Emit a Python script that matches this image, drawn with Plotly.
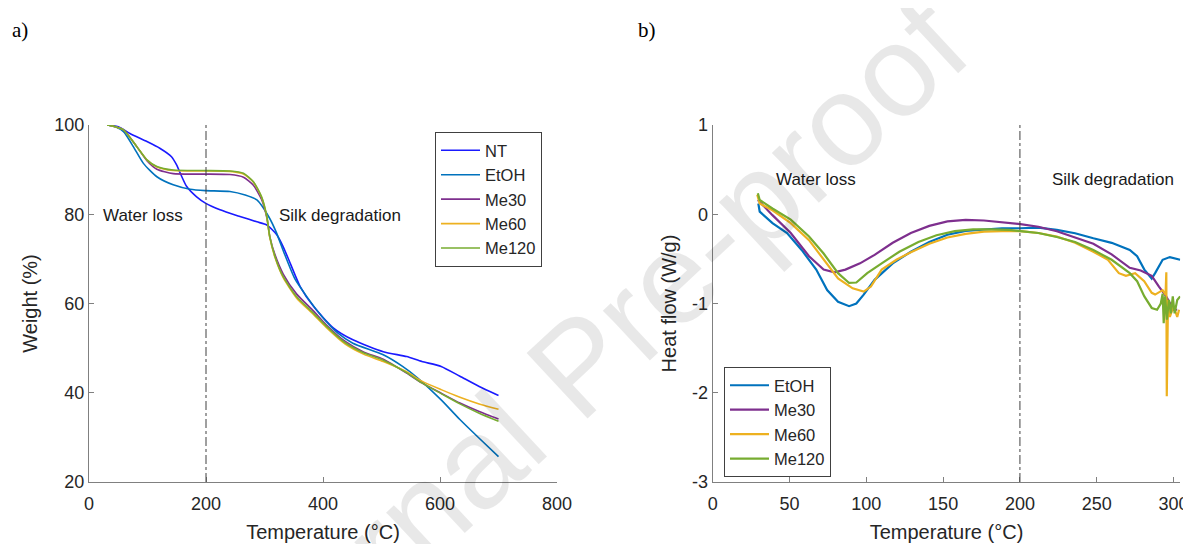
import plotly.graph_objects as go

# ---------------- a) TGA data ----------------
T_NT = [31, 50, 70, 99, 121, 141, 150, 156, 167, 184, 199, 224, 258, 287, 304, 321, 332, 344, 361, 384, 418, 452, 503, 543, 569, 602, 634, 667, 700]
W_NT = [100, 99.6, 98.1, 96.3, 94.8, 92.9, 91, 89.2, 86.2, 83.9, 82.5, 81, 79.5, 78.3, 77.6, 75.4, 72.7, 69, 63.8, 59.3, 54.5, 51.8, 49.2, 48.1, 47, 45.9, 43.7, 41.4, 39.4]

T_EtOH = [31, 45, 59, 76, 93, 116, 144, 173, 199, 241, 267, 287, 307, 320, 333, 352, 372, 398, 425, 451, 503, 536, 562, 602, 634, 667, 700]
W_EtOH = [100, 99.6, 98.5, 95.1, 91.4, 88.4, 86.6, 85.6, 85.3, 85.1, 84.3, 83.2, 79.5, 76, 71.5, 65.5, 61.6, 57.1, 53.4, 51.1, 48.5, 45.9, 43.3, 38.4, 34, 29.8, 25.7]

T_ME = [31, 45, 59, 82, 99, 116, 144, 195, 241, 264, 281, 295, 304, 309, 318, 332, 355, 384, 405, 438, 470, 503, 543, 569, 602, 634, 667, 700]
W_Me30 = [100, 99.6, 98.9, 95.1, 92.0, 90.1, 89.1, 89.0, 88.9, 88.3, 86.5, 83.3, 79.2, 75.0, 70.9, 66.6, 62.1, 58.3, 55.3, 51.5, 49.1, 47.5, 44.4, 42.2, 39.9, 37.7, 35.8, 34.1]
W_Me60 = [100, 99.6, 98.9, 95.1, 92.2, 90.6, 89.8, 89.7, 89.6, 89.0, 87.2, 83.8, 79.4, 74.8, 70.3, 65.8, 61.2, 57.5, 54.7, 50.9, 48.6, 47.0, 44.7, 42.6, 40.7, 39.0, 37.5, 36.3]
W_Me120 = [100, 99.6, 98.9, 95.1, 92.2, 90.7, 89.9, 89.8, 89.7, 89.2, 87.3, 83.9, 79.5, 75.0, 70.5, 66.0, 61.5, 57.8, 55.0, 51.2, 48.9, 47.3, 44.5, 42.2, 39.8, 37.5, 35.4, 33.6]

# ---------------- b) DSC data ----------------
D_T_EtOH = [29.7, 30.6, 38.9, 48.4, 57.9, 67.4, 74.5, 81.6, 88.8, 93.5, 98.3, 105.4, 117.2, 129, 141, 152.8, 164.7, 176.6, 188.4, 200.3, 212, 224, 235.9, 247.8, 259.7, 271.5, 276.3, 281, 285.8, 288, 292.9, 297.6, 304.3]
D_H_EtOH = [0.12, 0.03, -0.10, -0.21, -0.40, -0.62, -0.85, -0.98, -1.03, -1.0, -0.90, -0.735, -0.55, -0.42, -0.31, -0.23, -0.186, -0.168, -0.157, -0.157, -0.15, -0.175, -0.213, -0.269, -0.32, -0.40, -0.47, -0.62, -0.72, -0.66, -0.51, -0.48, -0.51]

D_T_Me30 = [29.4, 38.9, 50.8, 62.7, 72.2, 79.3, 86.4, 95.9, 105.4, 117.2, 129, 141, 152.8, 164.7, 176.6, 188.4, 200.3, 212, 224, 235.9, 247.8, 259.7, 271.5, 278.6, 285.8, 290.5, 295.2, 300, 302.4]
D_H_Me30 = [0.16, -0.01, -0.21, -0.47, -0.62, -0.65, -0.62, -0.55, -0.455, -0.32, -0.21, -0.13, -0.08, -0.063, -0.07, -0.09, -0.11, -0.14, -0.19, -0.26, -0.33, -0.45, -0.60, -0.63, -0.69, -0.81, -0.92, -1.07, -1.07]

D_T_Me60 = [29.0, 30.6, 38.9, 50.8, 62.7, 72.2, 81.6, 91.1, 98.3, 103, 110, 119.6, 129, 141, 152.8, 164.7, 176.6, 188.4, 200.3, 212, 224, 235.9, 247.8, 257.3, 264.4, 269, 275, 280.9, 285.8, 288, 290.5, 292.9, 294.8, 295.3, 295.6, 296.4, 297.6, 300, 302.4, 303.6]
D_H_Me60 = [0.22, 0.12, 0.045, -0.10, -0.29, -0.51, -0.72, -0.83, -0.866, -0.81, -0.62, -0.51, -0.425, -0.33, -0.26, -0.22, -0.195, -0.19, -0.19, -0.21, -0.25, -0.32, -0.42, -0.51, -0.66, -0.69, -0.66, -0.75, -0.88, -0.90, -0.875, -0.85, -0.90, -0.65, -2.04, -0.96, -1.15, -1.03, -1.15, -1.07]

D_T_Me120 = [29.4, 30.6, 38.9, 50.8, 62.7, 72.2, 81.6, 88.8, 93.5, 100.6, 110, 121.5, 133.9, 145.7, 157.6, 169.5, 181.3, 193.2, 200.3, 212, 224, 235.9, 247.8, 259.7, 271.5, 276.3, 281, 285.8, 289.3, 291.7, 292.9, 293.6, 294.5, 295.7, 297, 298.3, 299.5, 300.7, 302.4, 304.3]
D_H_Me120 = [0.235, 0.16, 0.065, -0.06, -0.25, -0.44, -0.66, -0.77, -0.765, -0.66, -0.55, -0.42, -0.31, -0.235, -0.19, -0.17, -0.17, -0.176, -0.19, -0.21, -0.255, -0.31, -0.40, -0.51, -0.66, -0.75, -0.92, -1.05, -1.07, -1.0, -0.89, -1.22, -0.92, -1.18, -0.96, -1.11, -0.92, -1.11, -0.96, -0.92]

# ---------------- ticks ----------------
X1_TICKS = [0, 200, 400, 600, 800]
Y1_TICKS = [20, 40, 60, 80, 100]
X2_TICKS = [0, 50, 100, 150, 200, 250, 300]
Y2_TICKS = [1, 0, -1, -2, -3]
Y2_LABELS = ["1", "0", "-1", "-2", "-3"]

C_NT = "#1a1aff"
C_ETOH = "#0072BD"
C_ME30 = "#7E2F8E"
C_ME60 = "#EDB120"
C_ME120 = "#77AC30"

FONT = "Arial, Liberation Sans, sans-serif"
TXT = "#262626"
AX = "#808080"

# page has an 8px body margin: figure occupies the window minus that offset
OFF = 8
W, H = 1191 - OFF, 544 - OFF


def px(x):
    return (x - OFF) / W


def py(y):
    return (H - (y - OFF)) / H


fig = go.Figure()

left = [("NT", T_NT, W_NT, C_NT), ("EtOH", T_EtOH, W_EtOH, C_ETOH),
        ("Me30", T_ME, W_Me30, C_ME30), ("Me60", T_ME, W_Me60, C_ME60),
        ("Me120", T_ME, W_Me120, C_ME120)]
for name, x, y, c in left:
    fig.add_trace(go.Scatter(x=x, y=y, mode="lines", name=name,
                             line=dict(color=c, width=1.6, shape="spline", smoothing=0.6),
                             xaxis="x", yaxis="y", legend="legend"))

right = [("EtOH", D_T_EtOH, D_H_EtOH, C_ETOH), ("Me30", D_T_Me30, D_H_Me30, C_ME30),
         ("Me60", D_T_Me60, D_H_Me60, C_ME60), ("Me120", D_T_Me120, D_H_Me120, C_ME120)]
for name, x, y, c in right:
    fig.add_trace(go.Scatter(x=x, y=y, mode="lines", name=name,
                             line=dict(color=c, width=2.2),
                             xaxis="x2", yaxis="y2", legend="legend2"))

x1d = [px(89), px(557)]
x2d = [px(712.7), px(1180.3)]
yd = [py(482), py(125)]

axis_common = dict(showline=True, linecolor=AX, linewidth=1, ticks="inside", ticklen=5,
                   tickcolor=AX, showgrid=False, zeroline=False, mirror=False,
                   tickfont=dict(family=FONT, size=18, color=TXT), automargin=False)
title_font = dict(family=FONT, size=20, color=TXT)

fig.update_layout(
    width=W, height=H, margin=dict(l=0, r=0, t=0, b=0),
    paper_bgcolor="white", plot_bgcolor="white",
    xaxis=dict(domain=x1d, range=[0, 800], tickvals=X1_TICKS, anchor="y", ticklabelstandoff=5,
               title=dict(text="Temperature (°C)", font=title_font, standoff=12), **axis_common),
    yaxis=dict(domain=yd, range=[20, 100], tickvals=Y1_TICKS, anchor="x",
               title=dict(text="Weight (%)", font=title_font, standoff=11), **axis_common),
    xaxis2=dict(domain=x2d, range=[0, 304.4], tickvals=X2_TICKS, anchor="y2", ticklabelstandoff=5,
                title=dict(text="Temperature (°C)", font=title_font, standoff=12), **axis_common),
    yaxis2=dict(domain=yd, range=[-3, 1], tickvals=Y2_TICKS, ticktext=Y2_LABELS, anchor="x2",
                title=dict(text="Heat flow (W/g)", font=title_font, standoff=10), **axis_common),
    legend=dict(x=px(435), y=py(132), xanchor="left", yanchor="top",
                bordercolor="#404040", borderwidth=1, bgcolor="white",
                font=dict(family=FONT, size=16.5, color=TXT), tracegroupgap=0, itemwidth=39),
    legend2=dict(x=px(724), y=py(367), xanchor="left", yanchor="top",
                 bordercolor="#404040", borderwidth=1, bgcolor="white",
                 font=dict(family=FONT, size=16.5, color=TXT), tracegroupgap=0, itemwidth=39),
    showlegend=True,
)

# vertical dash-dot lines at 200
for xr, yr in (("x", "y domain"), ("x2", "y2 domain")):
    fig.add_shape(type="line", xref=xr, yref=yr, x0=200, x1=200, y0=0, y1=1,
                  line=dict(color="#404040", width=1, dash="dashdot"))

ann_font = dict(family=FONT, size=17, color="#1a1a1a")
fig.add_annotation(x=20, y=79.7, xref="x", yref="y", text="Water loss", showarrow=False,
                   xanchor="left", yanchor="middle", font=ann_font)
fig.add_annotation(x=321, y=79.7, xref="x", yref="y", text="Silk degradation", showarrow=False,
                   xanchor="left", yanchor="middle", font=ann_font)
fig.add_annotation(x=39.8, y=0.395, xref="x2", yref="y2", text="Water loss", showarrow=False,
                   xanchor="left", yanchor="middle", font=ann_font)
fig.add_annotation(x=219.6, y=0.395, xref="x2", yref="y2", text="Silk degradation", showarrow=False,
                   xanchor="left", yanchor="middle", font=ann_font)

serif = dict(family="Liberation Serif, Times New Roman, serif", size=21, color="black")
fig.add_annotation(x=px(10), y=py(30), xref="paper", yref="paper", text="a)", showarrow=False,
                   xanchor="left", yanchor="middle", font=serif)
fig.add_annotation(x=px(636), y=py(30), xref="paper", yref="paper", text="b)", showarrow=False,
                   xanchor="left", yanchor="middle", font=serif)

# watermark
fig.add_annotation(x=px(578), y=py(366), xref="paper", yref="paper", text="Journal Pre-proof",
                   showarrow=False, textangle=-43, xanchor="center", yanchor="middle",
                   font=dict(family=FONT, size=130, color="rgba(0,0,0,0.09)"))

fig.write_html("out.html")
